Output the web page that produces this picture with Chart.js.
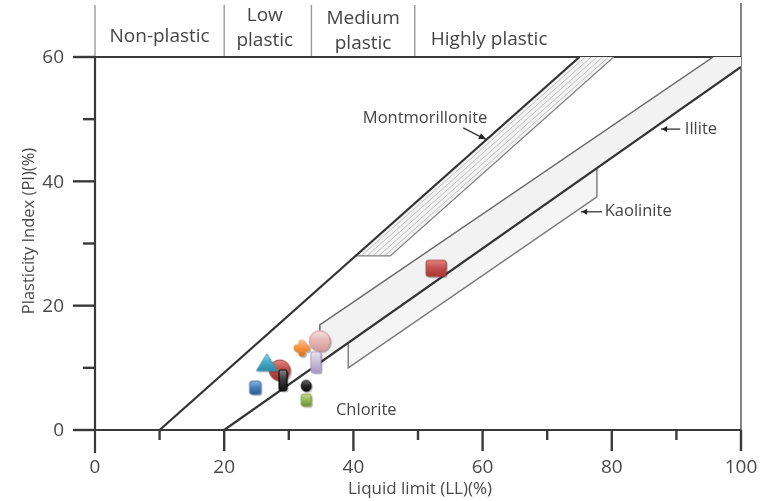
<!DOCTYPE html>
<html>
<head>
<meta charset="utf-8">
<script src="https://cdn.jsdelivr.net/npm/chart.js@4/dist/chart.umd.min.js"></script>
<style>
  html, body { margin: 0; padding: 0; background: #fff; }
  #wrap { width: 765px; height: 501px; position: relative; }
</style>
</head>
<body>
<div id="wrap"><canvas id="c"></canvas></div>
<script>
// Casagrande plasticity chart with clay-mineral zones and tested samples

// ---- axes ----
const xTicksMajor = [0, 20, 40, 60, 80, 100];
const xTicksMinor = [10, 30, 50, 70, 90];
const yTicksMajor = [0, 20, 40, 60];
const yTicksMinor = [10, 30, 50];

// ---- plasticity classes along the top ----
const classNames = ['Non-plastic', 'Low|plastic', 'Medium|plastic', 'Highly plastic'];
const classBoundsLL = [0, 20, 33.5, 49.5, 100];

// ---- reference lines ----
const uLineLL = [10, 75];
const uLinePI = [0, 60];
const aLineLL = [20, 100];
const aLinePI = [0, 58.4];

// ---- Montmorillonite zone ----
const montLL = [40.3, 75, 80.3, 45.7, 40.3];
const montPI = [28, 60, 60, 28, 28];
const montEdgeLL = [40.3, 45.7, 80.3];
const montEdgePI = [28, 28, 60];
const hatchLowLL = [41.2, 42.1, 43.0, 43.9, 44.8];
const hatchHighLL = [75.9, 76.8, 77.7, 78.6, 79.5];
const hatchPI = [28, 60];

// ---- Illite zone ----
const illiteLL = [34.8, 34.8, 95.7, 100, 100, 34.8];
const illitePI = [10.8, 16.9, 60, 60, 58.4, 10.8];
const illiteEdgeLL = [34.8, 34.8, 95.7];
const illiteEdgePI = [10.8, 16.9, 60];

// ---- Kaolinite zone ----
const kaolLL = [39.2, 39.2, 77.7, 77.7, 39.2];
const kaolPI = [14.0, 10.0, 37.5, 42.1, 14.0];
const kaolEdgeLL = [39.2, 39.2, 77.7, 77.7];
const kaolEdgePI = [14.0, 10.0, 37.5, 42.1];

// ---- samples (liquid limit, plasticity index) ----
const sampleLL = [28.6, 24.8, 26.6, 29.1, 32.7, 32.7, 32.0, 34.8, 34.2, 52.8];
const samplePI = [9.6, 6.8, 10.9, 8.0, 7.1, 4.8, 13.2, 14.3, 10.9, 26.0];

// ---- zone labels ----
const zoneLabels = ['Montmorillonite', 'Illite', 'Kaolinite', 'Chlorite'];

const pts = (xs, ys) => xs.map((v, i) => ({ x: v, y: ys[i] }));

// glossy marker glyphs
function marker(shape, w, h, light, base, dark, edge) {
  const pad = 4;
  const c = document.createElement('canvas');
  c.width = w + pad * 2;
  c.height = h + pad * 2;
  const g = c.getContext('2d');
  const path = (ox, oy) => {
    const x0 = pad + ox, y0 = pad + oy;
    g.beginPath();
    if (shape === 'circle') {
      g.ellipse(x0 + w / 2, y0 + h / 2, w / 2, h / 2, 0, 0, Math.PI * 2);
    } else if (shape === 'triangle') {
      g.moveTo(x0 + w / 2, y0);
      g.lineTo(x0 + w, y0 + h);
      g.lineTo(x0, y0 + h);
      g.closePath();
    } else if (shape === 'cross') {
      const a = w * 0.28, b = h * 0.28, r = 3;
      g.roundRect(x0 + a, y0, w - 2 * a, h, r);
      g.roundRect(x0, y0 + b, w, h - 2 * b, r);
    } else {
      g.roundRect(x0, y0, w, h, 2);
    }
  };
  g.fillStyle = 'rgba(0,0,0,0.3)';
  path(1.5, 1.5); g.fill();
  const grad = g.createLinearGradient(0, pad, 0, pad + h);
  grad.addColorStop(0, light);
  grad.addColorStop(0.45, base);
  grad.addColorStop(1, dark);
  g.fillStyle = grad;
  path(0, 0); g.fill();
  if (shape !== 'cross') {
    g.strokeStyle = edge; g.lineWidth = 1; path(0, 0); g.stroke();
  }
  return c;
}

const sampleGlyphs = [
  marker('circle', 21, 21, '#e08a88', '#c0504d', '#963330', '#a84441'),
  marker('rect', 11, 13, '#8fb3e0', '#4f81bd', '#2c5a94', '#3a6aa8'),
  marker('triangle', 21, 17, '#9adbea', '#4bacc6', '#2a89a4', '#3c9cb6'),
  marker('rect', 8, 21, '#888888', '#3a3a3a', '#111111', '#000000'),
  marker('circle', 10, 11, '#777777', '#2a2a2a', '#080808', '#000000'),
  marker('rect', 10, 12, '#c9df97', '#9bbb59', '#6b8b33', '#7f9f40'),
  marker('cross', 16, 17, '#fbc28f', '#f79646', '#d8711d', '#d8711d'),
  marker('circle', 21, 21, '#f7e0e0', '#e6b9b8', '#d09a99', '#c89090'),
  marker('rect', 10, 21, '#ebe5f4', '#ccc1da', '#a596c2', '#a898c4'),
  marker('rect', 20, 16, '#e08684', '#c8514e', '#a33835', '#a83c39')
];

const lineSet = (data, color, width, order) => ({
  type: 'scatter', data, showLine: true, borderColor: color, borderWidth: width,
  pointRadius: 0, fill: false, order, tension: 0
});
const zoneSet = (data, color, order) => ({
  type: 'scatter', data, showLine: true, borderWidth: 0, borderColor: 'rgba(0,0,0,0)',
  backgroundColor: color, pointRadius: 0, fill: 'shape', order, tension: 0
});

const datasets = [
  {
    type: 'scatter', data: pts(sampleLL, samplePI), pointStyle: sampleGlyphs,
    pointRadius: 8, pointHoverRadius: 8, order: 0, showLine: false
  },
  lineSet(pts(uLineLL, uLinePI), '#333333', 2.2, 1),
  lineSet(pts(aLineLL, aLinePI), '#333333', 2.2, 1),
  lineSet(pts(illiteEdgeLL, illiteEdgePI), '#6a6a6a', 1.5, 2),
  lineSet(pts(kaolEdgeLL, kaolEdgePI), '#7a7a7a', 1.4, 2),
  lineSet(pts(montEdgeLL, montEdgePI), '#808080', 1.2, 2)
];
hatchLowLL.forEach((v, i) => {
  datasets.push(lineSet(pts([v, hatchHighLL[i]], hatchPI), '#b4b4b4', 0.8, 3));
});
datasets.push(zoneSet(pts(montLL, montPI), '#f3f3f3', 4));
datasets.push(zoneSet(pts(illiteLL, illitePI), '#f2f2f2', 4));
datasets.push(zoneSet(pts(kaolLL, kaolPI), '#f5f5f5', 4));

const FONT = '"Open Sans", "Noto Sans", sans-serif';

const frame = {
  id: 'frame',
  beforeDatasetsDraw(chart) {
    const { ctx, scales: { x, y } } = chart;
    const px = v => x.getPixelForValue(v);
    const py = v => y.getPixelForValue(v);
    const seg = (x1, y1, x2, y2) => { ctx.beginPath(); ctx.moveTo(x1, y1); ctx.lineTo(x2, y2); ctx.stroke(); };
    ctx.save();
    // header dividers and left header edge
    ctx.strokeStyle = '#9a9a9a'; ctx.lineWidth = 1.4;
    classBoundsLL.slice(0, -1).forEach(v => seg(px(v), 5, px(v), py(60)));
    // right border
    ctx.strokeStyle = '#666'; ctx.lineWidth = 1.6;
    seg(px(100), 3, px(100), py(0));
    // left axis
    ctx.strokeStyle = '#3a3a3a'; ctx.lineWidth = 2.2;
    seg(px(0), py(60), px(0), py(0) + 23);
    // top and bottom lines
    seg(px(0) - 22, py(60), px(100), py(60));
    seg(px(0) - 22, py(0), px(100), py(0));
    // ticks
    ctx.lineWidth = 2.4;
    xTicksMajor.slice(1).forEach(v => seg(px(v), py(0), px(v), py(0) + 21));
    xTicksMinor.forEach(v => seg(px(v), py(0), px(v), py(0) + 10));
    yTicksMinor.forEach(v => seg(px(0) - 12, py(v), px(0), py(v)));
    yTicksMajor.forEach(v => seg(px(0) - 22, py(v), px(0), py(v)));
    ctx.restore();
  },
  afterDatasetsDraw(chart) {
    const { ctx, scales: { x, y } } = chart;
    const px = v => x.getPixelForValue(v);
    const py = v => y.getPixelForValue(v);
    ctx.save();
    ctx.fillStyle = '#4a4a4a';
    ctx.textBaseline = 'middle';

    // tick labels
    ctx.font = '19px ' + FONT;
    ctx.textAlign = 'right';
    yTicksMajor.forEach(v => ctx.fillText(String(v), px(0) - 31, py(v) + 1));
    ctx.textAlign = 'center';
    xTicksMajor.forEach(v => ctx.fillText(String(v), px(v), py(0) + 38));

    // axis titles
    ctx.font = '17px ' + FONT;
    ctx.fillText('Liquid limit (LL)(%)', (px(0) + px(100)) / 2 + 2, py(0) + 59);
    ctx.font = '16.5px ' + FONT;
    ctx.save();
    ctx.translate(29, 231);
    ctx.rotate(-Math.PI / 2);
    ctx.fillText('Plasticity Index (PI)(%)', 0, 0);
    ctx.restore();

    // plasticity classes
    ctx.font = '19px ' + FONT;
    ctx.fillStyle = '#444';
    const mid = i => (px(classBoundsLL[i]) + px(classBoundsLL[i + 1])) / 2;
    ctx.fillText(classNames[0], mid(0), 37);
    const low = classNames[1].split('|');
    ctx.fillText(low[0], mid(1) - 3, 16);
    ctx.fillText(low[1], mid(1) - 3, 41);
    const med = classNames[2].split('|');
    ctx.fillText(med[0], mid(2), 19);
    ctx.fillText(med[1], mid(2), 44);
    ctx.textAlign = 'left';
    ctx.fillText(classNames[3], px(classBoundsLL[3]) + 16, 40);

    // zone labels with pointers
    ctx.font = '16.5px ' + FONT;
    ctx.fillStyle = '#444';
    ctx.strokeStyle = '#333';
    ctx.lineWidth = 1.3;
    const arrow = (x1, y1, x2, y2) => {
      ctx.beginPath(); ctx.moveTo(x1, y1); ctx.lineTo(x2, y2); ctx.stroke();
      const a = Math.atan2(y2 - y1, x2 - x1);
      ctx.beginPath();
      ctx.moveTo(x2 + 1, y2);
      ctx.lineTo(x2 - 7 * Math.cos(a - 0.45), y2 - 7 * Math.sin(a - 0.45));
      ctx.lineTo(x2 - 7 * Math.cos(a + 0.45), y2 - 7 * Math.sin(a + 0.45));
      ctx.closePath();
      ctx.fillStyle = '#222'; ctx.fill();
      ctx.fillStyle = '#444';
    };
    ctx.textAlign = 'center';
    ctx.fillText(zoneLabels[0], px(51.1), py(50.2));
    arrow(px(57.0), py(48.6), px(60.4), py(46.8));
    ctx.textAlign = 'left';
    ctx.fillText(zoneLabels[1], px(91.3), py(48.4));
    arrow(px(90.6), py(48.4), px(87.6), py(48.4));
    ctx.fillText(zoneLabels[2], px(78.9), py(35.1));
    arrow(px(78.5), py(35.1), px(75.2), py(35.1));
    ctx.fillText(zoneLabels[3], px(37.3), py(3.2));
    ctx.restore();
  }
};

new Chart(document.getElementById('c'), {
  type: 'scatter',
  data: { datasets },
  options: {
    responsive: true,
    maintainAspectRatio: false,
    animation: false,
    events: [],
    layout: { padding: { left: 95, right: 24, top: 57, bottom: 71 } },
    plugins: { legend: { display: false }, tooltip: { enabled: false } },
    scales: {
      x: { type: 'linear', min: 0, max: 100, display: false },
      y: { type: 'linear', min: 0, max: 60, display: false }
    }
  },
  plugins: [frame]
});
</script>
</body>
</html>
